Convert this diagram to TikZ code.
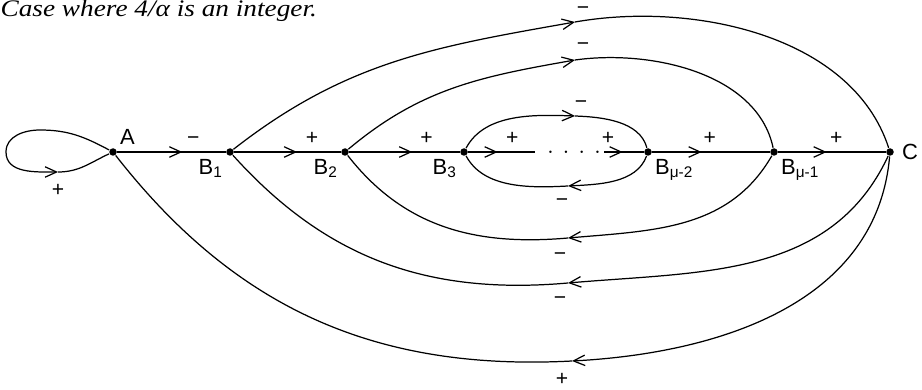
\documentclass[tikz,border=0pt]{standalone}
\usepackage{fontspec}
\setsansfont{Liberation Sans}
\newfontfamily\captionfont{Liberation Serif}
\usetikzlibrary{arrows.meta, decorations.markings}

\begin{document}
\begin{tikzpicture}[
        x=0.02cm, y=0.02cm,
        >={Straight Barb[length=2.3mm, width=2.1mm]},
        font=\sffamily\fontsize{12.5}{14}\selectfont,
        line width=0.7pt,
        dot/.style={circle, fill, inner sep=0pt, minimum size=1.5mm},
        sgn/.style={font=\sffamily\fontsize{12}{14}\selectfont, inner sep=0pt, execute at begin node=\vphantom{+}},
        midarrow/.style={postaction={decorate}, decoration={markings,
            mark=at position #1 with {\arrow{Straight Barb[length=2.3mm, width=2.1mm]}}}}
    ]

        \useasboundingbox (0,0) rectangle (922,389);

        % === CAPTION ===
        \node[anchor=base west, inner sep=0pt, font=\captionfont\itshape\fontsize{13.5}{16}\selectfont] (title) at (0,372) {\scalebox{1.15}[1]{Case where 4/α is an integer.}};

        % === NODES ON THE MAIN LINE ===
        \node[dot, label={[inner sep=2pt]above right:A}] (A) at (113,237) {};
        \node[dot, label={[inner sep=2pt]below left:B\textsubscript{1}}] (B1) at (230,237) {};
        \node[dot, label={[inner sep=2pt]below left:B\textsubscript{2}}] (B2) at (345,237) {};
        \node[dot, label={[inner sep=2pt]below left:B\textsubscript{3}}] (B3) at (464,237) {};
        \node[dot, label={[inner sep=2pt]below right:B\textsubscript{μ-2}}] (Bm2) at (648,237) {};
        \node[dot, label={[inner sep=2pt]below right:B\textsubscript{μ-1}}] (Bm1) at (774,237) {};
        \node[dot, label={[inner sep=4pt]right:C}] (C) at (890,237) {};

        % gap with the dots
        \coordinate (d1) at (535,237);
        \coordinate (d2) at (604,237);
        \node[inner sep=0pt, font=\Large] (dots) at (574,237) {.\hspace{5pt}.\hspace{5pt}.\hspace{5pt}.};

        % === MAIN LINE ===
        \draw[midarrow=0.6] (A) -- node[sgn, pos=0.7, yshift=2.8mm] (s1) {−} (B1);
        \draw[midarrow=0.59] (B1) -- node[sgn, pos=0.73, yshift=2.8mm] (s2) {+} (B2);
        \draw[midarrow=0.57] (B2) -- node[sgn, pos=0.7, yshift=2.8mm] (s3) {+} (B3);
        \draw[midarrow=0.44] (B3) -- node[sgn, pos=0.66, yshift=2.8mm] (s4) {+} (d1);
        \draw[midarrow=0.47] (d2) -- node[sgn, pos=0.1, yshift=2.8mm] (s5) {+} (Bm2);
        \draw[midarrow=0.42] (Bm2) -- node[sgn, pos=0.49, yshift=2.8mm] (s6) {+} (Bm1);
        \draw[midarrow=0.45] (Bm1) -- node[sgn, pos=0.54, yshift=2.8mm] (s7) {+} (C);

        % === UPPER ARCS ===
        \coordinate (t1) at (575,367);
        \coordinate (t2) at (575,329);
        \coordinate (t3) at (575,273);
        \draw[->] (B1) to[out=38, in=190] (t1);
        \draw (t1) to[out=10, in=108, looseness=0.9] (C);
        \draw[->] (B2) to[out=40, in=190] (t2);
        \draw (t2) to[out=8, in=102, looseness=0.9] (Bm1);
        \draw[->] (B3) to[out=62, in=178, looseness=0.9] (t3);
        \draw (t3) to[out=-2, in=105, looseness=0.9] (Bm2);
        \node[sgn] (u1) at ([shift={(8,14)}]t1) {−};
        \node[sgn] (u2) at ([shift={(8,16)}]t2) {−};
        \node[sgn] (u3) at ([shift={(6,14)}]t3) {−};

        % === LOWER ARCS ===
        \coordinate (b3) at (568,203);
        \coordinate (b2) at (568,151);
        \coordinate (b1) at (568,106);
        \coordinate (b0) at (572,28);
        \draw[->] (Bm2) to[out=-110, in=3, looseness=0.9] (b3);
        \draw (b3) to[out=183, in=-62, looseness=0.9] (B3);
        \draw[->] (Bm1) to[out=-120, in=5] (b2);
        \draw (b2) to[out=185, in=-52] (B2);
        \draw[->] (C) to[out=-115, in=5] (b1);
        \draw (b1) to[out=185, in=-48] (B1);
        \draw[->] (C) to[out=-95, in=3] (b0);
        \draw (b0) to[out=183, in=-52] (A);
        \node[sgn] (l3) at ([shift={(-6,-14)}]b3) {−};
        \node[sgn] (l2) at ([shift={(-8,-16)}]b2) {−};
        \node[sgn] (l1) at ([shift={(-8,-15)}]b1) {−};
        \node[sgn] (l0) at ([shift={(-10,-18)}]b0) {+};

        % === SELF LOOP AT A ===
        \coordinate (lpTop) at (40,259);
        \coordinate (lpLeft) at (6,237);
        \coordinate (lpTip) at (58,217);
        \draw[->] (A) to[out=152, in=0] (lpTop) to[out=180, in=90] (lpLeft) to[out=-90, in=180] (lpTip);
        \draw (lpTip) to[out=0, in=205] (A);
        \node[sgn] (lp) at ([shift={(0,-18)}]lpTip) {+};

\end{tikzpicture}
\end{document}
